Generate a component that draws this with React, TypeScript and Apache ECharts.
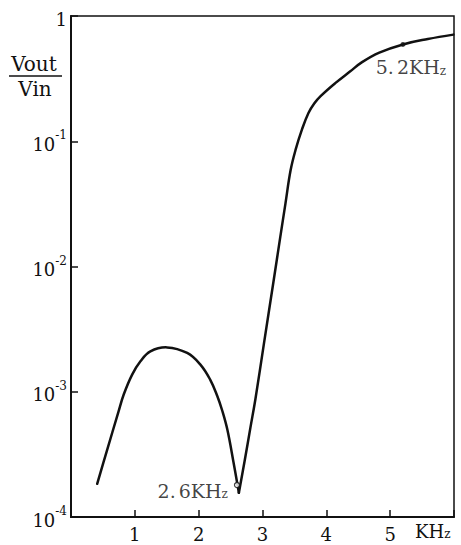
import React, { useEffect, useRef } from "react";
import * as echarts from "echarts";

// Frequency (kHz) and gain Vout/Vin
const FREQ_KHZ = [0.41, 0.556, 0.743, 0.826, 0.958, 1.088, 1.244, 1.505, 1.82, 2.03, 2.18, 2.29, 2.37, 2.45, 2.545, 2.63, 2.72, 2.81, 2.89, 3.02, 3.17, 3.28, 3.36, 3.44, 3.52, 3.62, 3.72, 3.81, 3.91, 4.14, 4.37, 4.56, 4.83, 5.2, 5.59, 5.99];
const GAIN = [1.84e-4, 3.3e-4, 6.9e-4, 9.5e-4, 1.37e-3, 1.75e-3, 2.1e-3, 2.26e-3, 2.04e-3, 1.64e-3, 1.25e-3, 9.3e-4, 7.05e-4, 4.97e-4, 2.75e-4, 1.56e-4, 2.8e-4, 5.15e-4, 8.8e-4, 2.38e-3, 7.45e-3, 1.74e-2, 3.19e-2, 5.86e-2, 8.6e-2, 0.125, 0.168, 0.2, 0.229, 0.291, 0.36, 0.428, 0.51, 0.593, 0.655, 0.71];

// Marked points
const MARK_FREQ = [2.6, 5.2];
const MARK_GAIN = [1.8e-4, 0.593];

// Axis ticks
const X_TICKS = [1, 2, 3, 4, 5];
const Y_MIN = 1e-4;
const Y_MAX = 1;

const FONT = "DejaVu Serif";
const INK = "#111";

export default function App() {
  const ref = useRef<HTMLDivElement>(null);
  useEffect(() => {
    if (!ref.current) return;
    const chart = echarts.init(ref.current, undefined, { renderer: "svg" });
    const pts = FREQ_KHZ.map((f, i) => [f, GAIN[i]]);
    let minIdx = 0;
    GAIN.forEach((g, i) => {
      if (g < GAIN[minIdx]) minIdx = i;
    });
    const leftBranch = pts.slice(0, minIdx + 1);
    const rightBranch = pts.slice(minIdx);
    const markRich = {
      a: { fontFamily: FONT, fontSize: 19, lineHeight: 22, verticalAlign: "bottom", color: INK, padding: [0, 3, 0, 0] },
      b: { fontFamily: FONT, fontSize: 19, lineHeight: 22, verticalAlign: "bottom", color: INK },
      s: { fontFamily: FONT, fontSize: 12, lineHeight: 12, verticalAlign: "bottom", color: INK },
    };

    chart.setOption({
      animation: false,
      grid: {
        left: 71,
        top: 16,
        width: 383,
        height: 501,
        show: true,
        borderColor: INK,
        borderWidth: 1.5,
        containLabel: false,
      },
      xAxis: {
        type: "value",
        min: 0,
        max: 6,
        interval: 1,
        splitLine: { show: false },
        axisLine: { lineStyle: { color: INK, width: 2 } },
        axisTick: { inside: true, length: 7, lineStyle: { color: INK, width: 1.5 } },
        axisLabel: {
          margin: 8,
          color: INK,
          fontFamily: FONT,
          fontSize: 18,
          formatter: (v: number) => (X_TICKS.includes(v) ? String(v) : ""),
        },
      },
      yAxis: {
        type: "log",
        logBase: 10,
        min: Y_MIN,
        max: Y_MAX,
        splitLine: { show: false },
        minorTick: { show: false },
        axisLine: { lineStyle: { color: INK, width: 2 } },
        axisTick: { inside: true, length: 7, lineStyle: { color: INK, width: 1.5 } },
        axisLabel: {
          margin: 4,
          color: INK,
          fontFamily: FONT,
          formatter: (v: number) => {
            const e = Math.round(Math.log10(v));
            if (e === 0) return "{b|1}";
            return "{b|10}{s|" + e + "}";
          },
          rich: {
            b: { fontFamily: FONT, fontSize: 18, lineHeight: 24, verticalAlign: "bottom", color: INK },
            s: { fontFamily: FONT, fontSize: 12, lineHeight: 12, verticalAlign: "top", color: INK },
          },
        },
      },
      series: [
        {
          type: "custom",
          coordinateSystem: "cartesian2d",
          silent: true,
          data: [pts[0]],
          renderItem: (_params: any, api: any) => {
            const mk = (branch: number[][]) => ({
              type: "polyline",
              shape: { points: branch.map((p) => api.coord(p)), smooth: 0.4 },
              style: { stroke: INK, lineWidth: 2.5, fill: "none", lineJoin: "round", lineCap: "round" },
            });
            return { type: "group", children: [mk(leftBranch), mk(rightBranch)] };
          },
        },
        {
          type: "scatter",
          data: [[MARK_FREQ[0], MARK_GAIN[0]]],
          symbol: "circle",
          symbolSize: 5,
          itemStyle: { color: "#fff", borderColor: INK, borderWidth: 1.2 },
          label: {
            show: true,
            position: "left",
            distance: 6,
            offset: [0, 4],
            formatter: "{a|2.}{b|6KH}{s|z}",
            rich: markRich,
          },
        },
        {
          type: "scatter",
          data: [[MARK_FREQ[1], MARK_GAIN[1]]],
          symbol: "circle",
          symbolSize: 5,
          itemStyle: { color: INK },
          label: {
            show: true,
            position: "bottom",
            distance: 2,
            offset: [8, 6],
            formatter: "{a|5.}{b|2KH}{s|z}",
            rich: markRich,
          },
        },
      ],
      graphic: [
        {
          type: "text",
          left: 415,
          top: 522,
          style: {
            text: "{b|KH}{s|z}",
            rich: {
              b: { fontFamily: FONT, fontSize: 18, lineHeight: 22, verticalAlign: "bottom", fill: INK },
              s: { fontFamily: FONT, fontSize: 12, lineHeight: 12, verticalAlign: "bottom", fill: INK },
            },
          },
        },
        {
          type: "text",
          x: 34,
          y: 64,
          style: { text: "Vout", fontFamily: FONT, fontSize: 20, fill: INK, align: "center", verticalAlign: "middle" },
        },
        {
          type: "line",
          shape: { x1: 9, y1: 76, x2: 62, y2: 76 },
          style: { stroke: INK, lineWidth: 1.5 },
        },
        {
          type: "text",
          x: 35,
          y: 89,
          style: { text: "Vin", fontFamily: FONT, fontSize: 20, fill: INK, align: "center", verticalAlign: "middle" },
        },
      ],
    });
    return () => chart.dispose();
  }, []);
  return (
    <div
      ref={ref}
      style={{ position: "absolute", left: 0, top: 0, width: 461, height: 545, background: "#fff" }}
    />
  );
}
